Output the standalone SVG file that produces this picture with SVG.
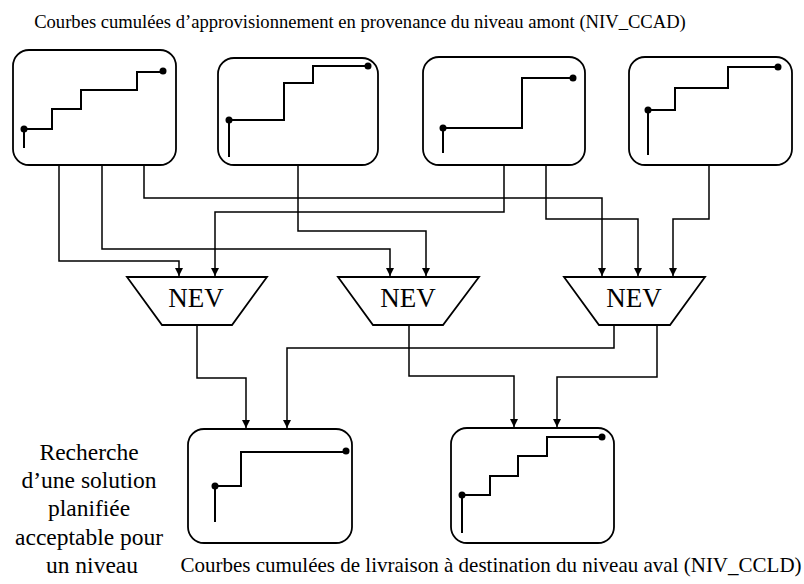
<svg xmlns="http://www.w3.org/2000/svg" width="804" height="584" viewBox="0 0 804 584">
<style>
.box{fill:none;stroke:#000;stroke-width:1.8}
.st{fill:none;stroke:#000;stroke-width:2}
.dot{fill:#000}
.con{fill:none;stroke:#000;stroke-width:1.5}
.nev{fill:#fff;stroke:#000;stroke-width:1.8}
.t{font-family:"Liberation Serif","Times New Roman",serif;fill:#000}
</style>
<defs>
<marker id="ah" markerUnits="userSpaceOnUse" markerWidth="10" markerHeight="10" refX="8" refY="4" orient="auto">
<path d="M0,0 L8,4 L0,8 Z" fill="#000"/>
</marker>
</defs>
<rect width="804" height="584" fill="#fff"/>
<text class="t" x="360" y="28" font-size="18.6" text-anchor="middle">Courbes cumulées d’approvisionnement en provenance du niveau amont (NIV_CCAD)</text>

<g id="top1">
<rect class="box" x="13" y="50" width="163" height="115" rx="16"/>
<polyline class="st" points="24,148 24,129 52,129 52,109 81,109 81,90 137,90 137,72 163,72"/>
<circle class="dot" cx="24" cy="129" r="3.5"/><circle class="dot" cx="163" cy="71" r="3.5"/>
</g>
<g id="top2">
<rect class="box" x="218" y="58" width="160" height="107" rx="16"/>
<polyline class="st" points="229,157 229,120 284,120 284,83 313,83 313,66 368,66"/>
<circle class="dot" cx="229" cy="120" r="3.5"/><circle class="dot" cx="368" cy="66" r="3.5"/>
</g>
<g id="top3">
<rect class="box" x="423" y="57" width="162" height="108" rx="16"/>
<polyline class="st" points="443,153 443,128 522,128 522,78 573,78"/>
<circle class="dot" cx="443" cy="128" r="3.5"/><circle class="dot" cx="573" cy="78" r="3.5"/>
</g>
<g id="top4">
<rect class="box" x="629" y="57" width="163" height="108" rx="16"/>
<polyline class="st" points="648,155 648,110 675,110 675,88 728,88 728,67 778,67"/>
<circle class="dot" cx="648" cy="110" r="3.5"/><circle class="dot" cx="778" cy="67" r="3.5"/>
</g>

<g id="connectors">
<path class="con" d="M59,165 V261 H179 V276" marker-end="url(#ah)"/>
<path class="con" d="M102,165 V249 H390 V276" marker-end="url(#ah)"/>
<path class="con" d="M144,165 V198 H602 V276" marker-end="url(#ah)"/>
<path class="con" d="M298,165 V231 H426 V276" marker-end="url(#ah)"/>
<path class="con" d="M504,165 V212 H215 V276" marker-end="url(#ah)"/>
<path class="con" d="M546,165 V219 H638 V276" marker-end="url(#ah)"/>
<path class="con" d="M709,165 V219 H673 V276" marker-end="url(#ah)"/>
<path class="con" d="M197,325 V378 H246 V428" marker-end="url(#ah)"/>
<path class="con" d="M614,324 V348 H287 V428" marker-end="url(#ah)"/>
<path class="con" d="M409,325 V376 H514 V427" marker-end="url(#ah)"/>
<path class="con" d="M657,324 V377 H557 V427" marker-end="url(#ah)"/>
</g>

<g id="nev1">
<polygon class="nev" points="127,277 267,277 232,325 162,325"/>
<text class="t" x="196" y="307" font-size="27" text-anchor="middle">NEV</text>
</g>
<g id="nev2">
<polygon class="nev" points="338,277 479,277 443,325 373,325"/>
<text class="t" x="408" y="307" font-size="27" text-anchor="middle">NEV</text>
</g>
<g id="nev3">
<polygon class="nev" points="564,277 705,277 670,325 599,325"/>
<text class="t" x="634" y="307" font-size="27" text-anchor="middle">NEV</text>
</g>

<g id="bot1">
<rect class="box" x="188" y="429" width="164" height="114" rx="16"/>
<polyline class="st" points="215,522 215,486 241,486 241,452 346,452"/>
<circle class="dot" cx="215" cy="486" r="3.5"/><circle class="dot" cx="346" cy="451" r="3.5"/>
</g>
<g id="bot2">
<rect class="box" x="451" y="428" width="163" height="115" rx="16"/>
<polyline class="st" points="462,533 462,495 490,495 490,476 518,476 518,456 547,456 547,437 602,437"/>
<circle class="dot" cx="462" cy="495" r="3.5"/><circle class="dot" cx="602" cy="437" r="3.5"/>
</g>

<g id="side-label">
<text class="t" font-size="23.5" text-anchor="middle">
<tspan x="92" y="460">Recherche</tspan>
<tspan x="92" y="488">d’une solution</tspan>
<tspan x="92" y="516">planifiée</tspan>
<tspan x="92" y="545">acceptable pour</tspan>
<tspan x="92" y="573">un niveau</tspan>
</text>
</g>
<text class="t" x="491" y="572" font-size="21" text-anchor="middle">Courbes cumulées de livraison à destination du niveau aval (NIV_CCLD)</text>
</svg>
